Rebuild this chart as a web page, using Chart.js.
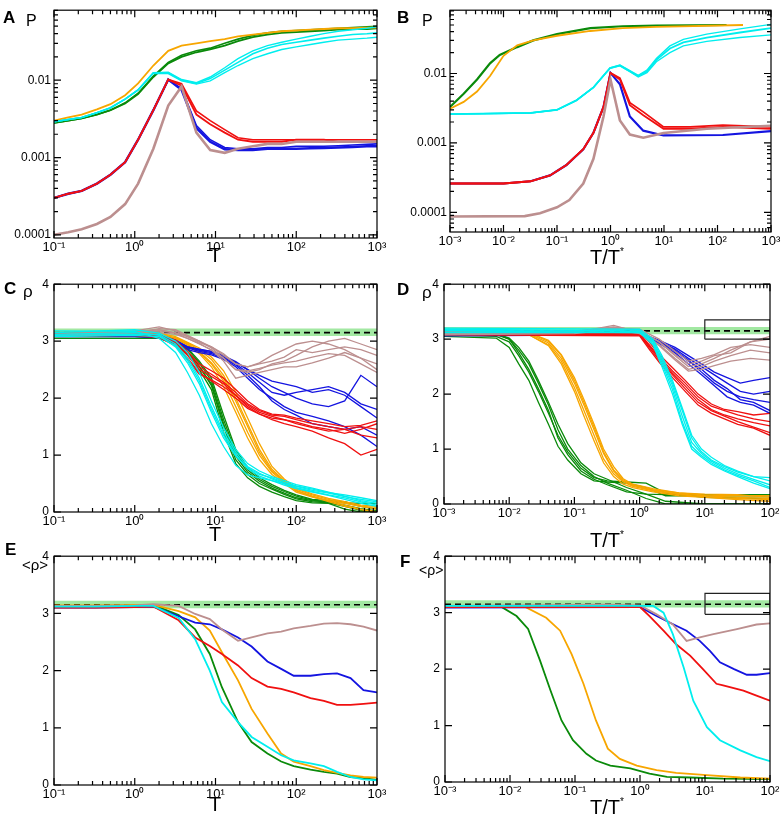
<!DOCTYPE html>
<html>
<head>
<meta charset="utf-8">
<script src="https://cdn.jsdelivr.net/npm/chart.js@4.4.1/dist/chart.umd.min.js"></script>
<style>
  body { margin: 0; background: #fff; }
  #fig { position: relative; width: 783px; height: 823px; overflow: hidden;
         font-family: 'Liberation Sans', Arial, Helvetica, sans-serif; }
  canvas { position: absolute; }
  .t { position: absolute; line-height: 1; white-space: nowrap; color: #000; }
  .let { font-weight: bold; font-size: 17px; }
  .yl { font-size: 16px; }
  .ax { font-size: 20px; width: 100px; text-align: center; }
  .ax sup { font-size: 10px; vertical-align: 9px; }
</style>
</head>
<body>
<div id="fig">
  <canvas id="pA"></canvas>
  <canvas id="pB"></canvas>
  <canvas id="pC"></canvas>
  <canvas id="pD"></canvas>
  <canvas id="pE"></canvas>
  <canvas id="pF"></canvas>

  <div class="t let" style="left:3px;top:9px">A</div>
  <div class="t yl" style="left:26px;top:13px">P</div>
  <div class="t let" style="left:397px;top:9px">B</div>
  <div class="t yl" style="left:422px;top:13px">P</div>
  <div class="t let" style="left:4px;top:280px">C</div>
  <div class="t yl" style="left:23px;top:283px;font-size:17px">ρ</div>
  <div class="t let" style="left:397px;top:281px">D</div>
  <div class="t yl" style="left:422px;top:284px;font-size:17px">ρ</div>
  <div class="t let" style="left:5px;top:541px">E</div>
  <div class="t yl" style="left:22px;top:557px;font-size:15px">&lt;ρ&gt;</div>
  <div class="t let" style="left:400px;top:553px">F</div>
  <div class="t yl" style="left:419px;top:563px;font-size:14px">&lt;ρ&gt;</div>

  <div class="t ax" style="left:165px;top:245px">T</div>
  <div class="t ax" style="left:557px;top:247px">T/T<sup>*</sup></div>
  <div class="t ax" style="left:165px;top:524px">T</div>
  <div class="t ax" style="left:557px;top:530px">T/T<sup>*</sup></div>
  <div class="t ax" style="left:165px;top:794px">T</div>
  <div class="t ax" style="left:557px;top:797px">T/T<sup>*</sup></div>
</div>

<script>
// ---------------------------------- colours ----------------------------------
const GREEN = '#0a8a0a', ORANGE = '#f7a600', CYAN = '#00eeee', RED = '#f01010', BLUE = '#1414e0', BROWN = '#bc8f8f';
const BAND = '#a2e8a2';
const FONT = "'Liberation Sans', Arial, Helvetica, sans-serif";

// ---------------------------------- ticks ------------------------------------
const decT = [0.1, 1, 10, 100, 1000];
const labT = ['10⁻¹', '10⁰', '10¹', '10²', '10³'];
const decTT = [0.001, 0.01, 0.1, 1, 10, 100, 1000];
const labTT = ['10⁻³', '10⁻²', '10⁻¹', '10⁰', '10¹', '10²', '10³'];
const decTT5 = [0.001, 0.01, 0.1, 1, 10, 100];
const labTT5 = ['10⁻³', '10⁻²', '10⁻¹', '10⁰', '10¹', '10²'];
const decP = [0.0001, 0.001, 0.01];
const labP = ['0.0001', '0.001', '0.01'];
const rhoTicks = [0, 1, 2, 3, 4];
const rhoLabels = ['0', '1', '2', '3', '4'];

// reference density, its band, and the boxes of D / F
const rhoRef = 3.15, rhoLo = 3.09, rhoHi = 3.22;
const boxX = [10, 10, 100, 100, 10];
const boxYD = [3.0, 3.35, 3.35, 3.0, 3.0];
const boxYF = [2.97, 3.34, 3.34, 2.97, 2.97];

// ---------------------------------- panel A ----------------------------------
const aT = [0.1,0.15,0.22,0.34,0.5,0.76,1.1,1.7,2.6,3.8,5.8,8.6,13,19,29,44,66,100,150,220,330,500,750,1000];
const aOrange = [0.0030,0.0033,0.0036,0.0042,0.0049,0.0064,0.0091,0.0155,0.024,0.028,0.030,0.032,0.034,0.037,0.039,0.041,0.043,0.044,0.045,0.046,0.047,0.047,0.048,0.048];
const aGreen1 = [0.0028,0.0030,0.0032,0.0036,0.0041,0.0050,0.0066,0.0110,0.0165,0.020,0.023,0.025,0.028,0.032,0.036,0.039,0.041,0.042,0.043,0.044,0.045,0.046,0.046,0.047];
const aGreen2 = [0.0028,0.0030,0.0032,0.0036,0.0041,0.0051,0.0068,0.0113,0.0170,0.021,0.024,0.026,0.030,0.034,0.038,0.041,0.043,0.044,0.045,0.046,0.047,0.048,0.049,0.050];
const aCyan1 = [0.0029,0.0031,0.0033,0.0038,0.0044,0.0057,0.0075,0.0125,0.0125,0.0100,0.0091,0.0105,0.0135,0.017,0.022,0.026,0.029,0.031,0.033,0.035,0.037,0.039,0.040,0.041];
const aCyan2 = [0.0029,0.0031,0.0033,0.0038,0.0044,0.0057,0.0075,0.0125,0.0127,0.0102,0.0093,0.011,0.0145,0.019,0.024,0.028,0.031,0.034,0.037,0.040,0.043,0.045,0.047,0.049];
const aCyan3 = [0.0029,0.0031,0.0033,0.0038,0.0044,0.0057,0.0075,0.0123,0.0122,0.0098,0.0089,0.0098,0.0125,0.0155,0.019,0.022,0.025,0.027,0.029,0.031,0.033,0.034,0.035,0.036];
const aRed1 = [0.00030,0.00034,0.00037,0.00046,0.00060,0.00087,0.0017,0.0041,0.0102,0.0085,0.0036,0.0027,0.0021,0.0017,0.0016,0.0016,0.0016,0.0017,0.0017,0.0017,0.0016,0.0016,0.0016,0.0016];
const aRed2 = [0.00030,0.00034,0.00037,0.00046,0.00060,0.00087,0.0017,0.0041,0.0102,0.0090,0.0040,0.0030,0.0023,0.0018,0.0017,0.0017,0.0017,0.0017,0.0017,0.0017,0.0017,0.0017,0.0017,0.0017];
const aBlue1 = [0.00030,0.00034,0.00037,0.00046,0.00060,0.00087,0.0017,0.0041,0.0102,0.0075,0.0024,0.0016,0.00128,0.00125,0.00125,0.0013,0.0013,0.0013,0.00132,0.00133,0.00135,0.00137,0.0014,0.0014];
const aBlue2 = [0.00030,0.00034,0.00037,0.00046,0.00060,0.00087,0.0017,0.0041,0.0102,0.0078,0.0026,0.0017,0.00135,0.0013,0.0013,0.00135,0.00135,0.0014,0.0014,0.0014,0.00142,0.00145,0.00148,0.0015];
const aBrown = [0.00010,0.000108,0.000118,0.000138,0.00017,0.00025,0.00046,0.0013,0.0047,0.0083,0.0021,0.00125,0.00115,0.0013,0.0014,0.0015,0.0015,0.0016,0.0016,0.0016,0.0016,0.0016,0.0016,0.0016];

// ---------------------------------- panel B ----------------------------------
const bGreenT = [0.001,0.0018,0.0032,0.0056,0.0085,0.018,0.036,0.1,0.42,1.7,7.2,148];
const bGreen = [0.0033,0.0051,0.0082,0.014,0.0185,0.024,0.030,0.037,0.045,0.048,0.049,0.050];
const bOrangeT = [0.001,0.0018,0.0032,0.0056,0.01,0.018,0.036,0.1,0.42,1.7,7.2,300];
const bOrange = [0.0031,0.0039,0.0055,0.0092,0.018,0.0255,0.030,0.035,0.041,0.045,0.047,0.050];
const bCyanT = [0.001,0.032,0.1,0.23,0.48,0.98,1.5,2.3,3.3,4.8,7.2,12.9,23,63,263,1000];
const bCyan1 = [0.0026,0.0027,0.0030,0.0041,0.0063,0.0120,0.0131,0.0108,0.0092,0.0108,0.0157,0.0229,0.028,0.033,0.039,0.045];
const bCyan2 = [0.0026,0.0027,0.0030,0.0041,0.0063,0.0121,0.0133,0.0110,0.0094,0.0112,0.0165,0.025,0.031,0.037,0.044,0.051];
const bCyan3 = [0.0026,0.0027,0.0030,0.0041,0.0063,0.0119,0.0129,0.0106,0.0089,0.0103,0.0148,0.020,0.025,0.029,0.033,0.036];
const bRedT = [0.001,0.01,0.032,0.074,0.15,0.31,0.48,0.74,1,1.5,2.3,4.1,9.8,31,126,1000];
const bRed1 = [0.00026,0.00026,0.00028,0.00034,0.00048,0.00081,0.0014,0.0033,0.0102,0.0082,0.0035,0.0025,0.0016,0.0016,0.0017,0.0016];
const bRed2 = [0.00026,0.00026,0.00028,0.00034,0.00048,0.00081,0.0014,0.0033,0.0102,0.0086,0.0038,0.0028,0.0017,0.0017,0.0018,0.0017];
const bBlueT = [0.001,0.01,0.032,0.074,0.15,0.31,0.48,0.74,1,1.5,2.3,4.1,9.8,126,1000];
const bBlue = [0.00026,0.00026,0.00028,0.00034,0.00048,0.00081,0.0014,0.0033,0.0102,0.0070,0.0024,0.0015,0.00128,0.0013,0.00148];
const bBrownT = [0.001,0.025,0.048,0.1,0.17,0.31,0.48,0.74,1,1.5,2.3,4.1,9.8,63,1000];
const bBrown = [0.000087,0.000088,0.000097,0.000118,0.00015,0.00026,0.00059,0.0024,0.0082,0.0021,0.00132,0.00119,0.00139,0.0016,0.00177];

// ---------------------------------- panel C (single runs) --------------------
const cT = [0.1,1,2,3.2,4.5,6.3,8.9,12.6,17.8,25,35,50,71,100,158,251,398,631,1000];
const cCyan = [
  [3.18,3.17,3.05,2.8,2.45,2.05,1.55,1.15,0.82,0.65,0.6,0.55,0.5,0.45,0.38,0.33,0.27,0.22,0.18],
  [3.12,3.15,3.1,2.9,2.62,2.25,1.75,1.3,0.98,0.78,0.66,0.6,0.52,0.46,0.4,0.34,0.3,0.25,0.2],
  [3.1,3.12,3.12,2.95,2.7,2.35,1.85,1.4,1.05,0.8,0.68,0.58,0.5,0.43,0.36,0.3,0.25,0.18,0.12],
  [3.15,3.2,3.14,3.0,2.8,2.45,1.95,1.48,1.1,0.85,0.72,0.62,0.55,0.48,0.42,0.35,0.28,0.2,0.15],
  [3.08,3.1,3.08,2.92,2.66,2.3,1.8,1.35,1.0,0.76,0.63,0.55,0.47,0.41,0.35,0.29,0.22,0.15,0.1]
];
const cGreen = [
  [3.05,3.05,3.05,2.95,2.78,2.5,2.15,1.4,0.85,0.6,0.45,0.35,0.27,0.2,0.16,0.15,0.05,0.0,0.0],
  [3.1,3.1,3.08,2.98,2.82,2.56,2.22,1.5,0.92,0.66,0.5,0.4,0.31,0.23,0.18,0.16,0.1,0.03,0.0],
  [3.12,3.12,3.1,3.0,2.86,2.62,2.3,1.62,1.05,0.74,0.57,0.45,0.36,0.28,0.21,0.18,0.16,0.15,0.15],
  [3.08,3.08,3.06,2.96,2.8,2.55,2.25,1.55,0.98,0.7,0.54,0.42,0.33,0.25,0.2,0.17,0.12,0.06,0.02],
  [3.14,3.12,3.1,3.02,2.88,2.65,2.35,1.7,1.1,0.78,0.6,0.48,0.38,0.3,0.22,0.2,0.18,0.1,0.05]
];
const cOrange = [
  [3.15,3.15,3.12,3.05,2.95,2.8,2.6,2.3,1.85,1.4,1.0,0.7,0.52,0.38,0.28,0.2,0.12,0.05,0.0],
  [3.13,3.14,3.12,3.06,2.97,2.85,2.68,2.4,2.0,1.55,1.1,0.75,0.55,0.4,0.3,0.22,0.16,0.1,0.05],
  [3.12,3.13,3.1,3.04,2.93,2.78,2.55,2.2,1.75,1.3,0.92,0.66,0.5,0.35,0.26,0.2,0.15,0.1,0.08],
  [3.16,3.16,3.14,3.08,2.98,2.88,2.72,2.48,2.1,1.65,1.2,0.8,0.58,0.42,0.32,0.24,0.18,0.12,0.1],
  [3.14,3.14,3.12,3.05,2.95,2.82,2.62,2.35,1.95,1.5,1.05,0.72,0.54,0.37,0.27,0.18,0.1,0.04,0.0]
];
const cRed = [
  [3.1,3.1,3.08,2.95,2.7,2.45,2.3,2.15,2.0,1.82,1.72,1.65,1.62,1.58,1.5,1.45,1.38,1.45,1.55],
  [3.12,3.12,3.1,2.98,2.78,2.55,2.42,2.28,2.1,1.9,1.78,1.7,1.68,1.62,1.55,1.5,1.45,1.35,1.3],
  [3.08,3.1,3.06,2.92,2.68,2.42,2.32,2.2,2.05,1.85,1.72,1.62,1.55,1.5,1.42,1.3,1.2,1.0,1.1],
  [3.14,3.14,3.12,3.02,2.82,2.6,2.48,2.35,2.15,1.95,1.8,1.72,1.7,1.65,1.6,1.55,1.5,1.52,1.6],
  [3.1,3.12,3.1,2.96,2.75,2.5,2.38,2.25,2.05,1.88,1.75,1.68,1.62,1.55,1.48,1.42,1.45,1.5,1.45]
];
const cBlue = [
  [3.1,3.1,3.08,3.0,2.9,2.85,2.82,2.75,2.62,2.5,2.35,2.2,2.1,2.0,1.9,1.85,1.95,2.4,2.2],
  [3.08,3.08,3.06,2.98,2.85,2.8,2.76,2.68,2.55,2.35,2.15,2.0,1.85,1.75,1.68,1.6,1.5,1.35,1.15],
  [3.12,3.12,3.1,3.02,2.9,2.86,2.82,2.72,2.6,2.45,2.28,2.1,2.05,2.1,2.15,2.2,2.1,1.9,1.8],
  [3.1,3.1,3.08,3.0,2.88,2.82,2.78,2.7,2.58,2.4,2.2,1.95,1.8,1.7,1.55,1.5,1.45,1.5,1.35],
  [3.09,3.1,3.08,3.01,2.9,2.84,2.8,2.74,2.64,2.5,2.4,2.3,2.25,2.2,2.1,2.15,2.05,1.85,1.65]
];
const cBrown = [
  [3.1,3.15,3.22,3.2,3.1,3.0,2.88,2.7,2.5,2.45,2.5,2.6,2.65,2.75,2.9,3.0,3.05,2.95,2.85],
  [3.12,3.18,3.25,3.18,3.08,2.98,2.9,2.75,2.6,2.55,2.62,2.75,2.85,2.95,3.0,2.95,2.85,2.7,2.5],
  [3.08,3.12,3.15,3.12,3.05,2.95,2.85,2.65,2.35,2.4,2.45,2.5,2.55,2.55,2.62,2.7,2.8,2.7,2.6],
  [3.14,3.16,3.2,3.15,3.08,3.0,2.9,2.78,2.6,2.55,2.6,2.65,2.72,2.85,2.8,2.85,2.9,2.85,2.75],
  [3.1,3.14,3.18,3.14,3.05,2.96,2.84,2.7,2.5,2.48,2.52,2.58,2.62,2.65,2.72,2.78,2.75,2.6,2.45]
];

// ---------------------------------- panel D (single runs, T/T*) -------------
const dGreenT = [0.001,0.0063,0.01,0.014,0.02,0.028,0.04,0.056,0.079,0.126,0.2,0.32,0.63,1.26,2.5,10,100];
const dGreen = [
  [3.05,3.02,2.85,2.55,2.25,1.85,1.45,1.05,0.8,0.55,0.42,0.4,0.38,0.3,0.15,0.15,0.15],
  [3.08,3.05,2.95,2.7,2.4,2.05,1.65,1.25,0.95,0.65,0.48,0.42,0.4,0.38,0.2,0.12,0.1],
  [3.1,3.08,3.0,2.8,2.55,2.2,1.8,1.35,1.0,0.7,0.5,0.38,0.25,0.1,0.0,0.0,0.0],
  [3.12,3.1,3.02,2.85,2.6,2.25,1.85,1.45,1.1,0.75,0.55,0.45,0.3,0.18,0.05,0.0,0.0],
  [3.15,3.1,3.0,2.75,2.45,2.1,1.7,1.2,0.9,0.6,0.45,0.35,0.22,0.18,0.17,0.17,0.17]
];
const dOrangeT = [0.001,0.02,0.04,0.063,0.1,0.14,0.2,0.28,0.4,0.56,0.79,1.6,4,10,32,100];
const dOrange = [
  [3.1,3.08,2.88,2.55,2.05,1.6,1.15,0.75,0.5,0.36,0.3,0.22,0.15,0.12,0.08,0.05],
  [3.12,3.1,2.93,2.65,2.2,1.8,1.35,0.92,0.6,0.42,0.34,0.25,0.18,0.15,0.12,0.1],
  [3.15,3.12,2.98,2.72,2.3,1.9,1.45,1.0,0.68,0.46,0.36,0.28,0.2,0.16,0.15,0.15],
  [3.1,3.08,2.9,2.6,2.12,1.7,1.25,0.82,0.55,0.4,0.32,0.24,0.17,0.13,0.1,0.08],
  [3.14,3.12,2.96,2.7,2.25,1.85,1.4,0.95,0.62,0.44,0.35,0.26,0.2,0.18,0.17,0.12]
];
const dCyanT = [0.001,1,1.6,2.2,3.2,4.5,6.3,8.9,12.6,20,32,56,100];
const dCyan = [
  [3.15,3.12,2.9,2.5,2.0,1.45,1.0,0.85,0.72,0.6,0.5,0.38,0.28],
  [3.18,3.15,2.95,2.6,2.15,1.6,1.12,0.92,0.78,0.65,0.55,0.45,0.35],
  [3.2,3.18,3.0,2.7,2.25,1.75,1.25,1.0,0.85,0.7,0.6,0.5,0.42],
  [3.12,3.12,2.92,2.55,2.08,1.5,1.05,0.88,0.75,0.62,0.52,0.42,0.3],
  [3.16,3.14,2.97,2.65,2.2,1.7,1.2,0.95,0.8,0.68,0.58,0.5,0.48]
];
const dRedT = [0.001,1,1.4,2,3.2,5,7.9,12.6,20,32,56,100];
const dRed = [
  [3.1,3.08,2.85,2.62,2.35,2.1,1.85,1.7,1.6,1.5,1.4,1.3],
  [3.12,3.1,2.9,2.68,2.42,2.2,1.95,1.78,1.7,1.62,1.55,1.5],
  [3.08,3.06,2.82,2.58,2.3,2.05,1.8,1.65,1.55,1.45,1.38,1.25],
  [3.14,3.12,2.95,2.72,2.48,2.25,2.0,1.82,1.72,1.68,1.62,1.65],
  [3.1,3.08,2.88,2.65,2.38,2.15,1.9,1.72,1.62,1.55,1.48,1.42]
];
const dBlueT = [0.001,1,2,3.5,5.6,8.9,14,22,35,56,100];
const dBlue = [
  [3.08,3.1,2.95,2.8,2.6,2.45,2.25,2.1,1.9,1.85,1.7],
  [3.1,3.12,2.98,2.85,2.7,2.55,2.4,2.3,2.2,2.25,2.3],
  [3.06,3.08,2.92,2.75,2.55,2.35,2.15,1.95,1.85,1.8,1.65],
  [3.1,3.1,2.96,2.82,2.65,2.5,2.35,2.2,2.05,2.0,2.05],
  [3.08,3.09,2.94,2.78,2.62,2.4,2.2,2.05,1.95,1.9,1.85]
];
const dBrownT = [0.001,0.1,0.4,1,2,3.5,5.6,8.9,14,25,50,100];
const dBrown = [
  [3.12,3.14,3.22,3.15,2.95,2.7,2.5,2.55,2.65,2.8,2.95,3.0],
  [3.1,3.12,3.25,3.12,2.9,2.65,2.45,2.5,2.6,2.7,2.8,2.75],
  [3.14,3.15,3.2,3.18,3.0,2.78,2.6,2.65,2.72,2.85,2.9,2.85],
  [3.08,3.1,3.18,3.1,2.88,2.62,2.42,2.45,2.52,2.6,2.65,2.62],
  [3.12,3.14,3.22,3.16,2.95,2.72,2.55,2.6,2.7,2.75,2.95,3.05]
];

// ---------------------------------- panel E (averages vs T) ------------------
const eT = [0.1,0.32,1,1.7,3.5,5.6,8.5,12,19,28,44,65,93,150,220,320,470,680,1000];
const eBrown = [3.13,3.13,3.14,3.16,3.13,2.99,2.90,2.72,2.52,2.58,2.65,2.68,2.74,2.78,2.82,2.83,2.81,2.77,2.70];
const eBlue = [3.10,3.10,3.11,3.12,2.95,2.84,2.81,2.72,2.58,2.42,2.16,2.03,1.91,1.91,1.94,1.95,1.87,1.66,1.62];
const eRed = [3.10,3.10,3.11,3.12,2.88,2.58,2.43,2.29,2.09,1.87,1.72,1.68,1.62,1.52,1.47,1.40,1.40,1.42,1.44];
const eOrange = [3.14,3.14,3.15,3.15,3.04,2.93,2.70,2.32,1.83,1.33,0.90,0.55,0.41,0.33,0.26,0.21,0.17,0.14,0.13];
const eGreen = [3.12,3.12,3.13,3.15,2.97,2.72,2.29,1.71,1.10,0.75,0.55,0.41,0.33,0.27,0.23,0.20,0.14,0.12,0.09];
const eCyan = [3.12,3.12,3.13,3.13,2.92,2.55,2.0,1.45,1.10,0.84,0.67,0.52,0.43,0.38,0.33,0.23,0.14,0.10,0.08];

// ---------------------------------- panel F (averages vs T/T*) ---------------
const fGreenT = [0.001,0.0074,0.0126,0.019,0.029,0.042,0.062,0.093,0.15,0.21,0.35,0.71,1.4,2.6,5.9,19,100];
const fGreen = [3.1,3.1,2.94,2.71,2.15,1.62,1.09,0.74,0.5,0.38,0.29,0.24,0.15,0.09,0.08,0.06,0.05];
const fOrangeT = [0.001,0.016,0.036,0.059,0.089,0.135,0.21,0.32,0.49,0.89,1.8,3.6,10.7,35,100];
const fOrange = [3.12,3.12,2.91,2.68,2.26,1.74,1.09,0.59,0.41,0.29,0.21,0.16,0.12,0.08,0.06];
const fCyanT = [0.001,1.6,2.3,3.2,4.7,6.6,10.7,17,35,62,100];
const fCyan = [3.12,3.12,3.0,2.62,2.03,1.44,0.97,0.74,0.56,0.44,0.37];
const fRedT = [0.001,1,1.4,2.3,3.6,5.9,9.3,15,19,39,62,100];
const fRed = [3.1,3.1,2.94,2.68,2.44,2.24,2.0,1.74,1.71,1.62,1.53,1.44];
const fBlueT = [0.001,1,1.8,2.9,5.2,8.3,12,17,28,44,62,100];
const fBlue = [3.09,3.1,2.94,2.82,2.68,2.5,2.32,2.12,2.0,1.9,1.9,1.93];
const fBrownT = [0.001,0.3,1,1.8,3.2,5.2,8.3,13.5,31,62,100];
const fBrown = [3.12,3.14,3.13,2.97,2.79,2.5,2.56,2.62,2.71,2.79,2.81];

// ---------------------------------- helpers ----------------------------------
// lower order = drawn on top
const ORD = { box: 0, cyan: 1, brown: 2, red: 3, blue: 4, orange: 5, green: 6, dash: 8, band: 9 };

function line(xs, ys, color, w, order) {
  return {
    data: xs.map((x, i) => ({ x: x, y: ys[i] })),
    borderColor: color, borderWidth: w, pointRadius: 0, fill: false, tension: 0, order: order
  };
}
function runs(xs, set, color, w, order) {
  return set.map(ys => line(xs, ys, color, w, order));
}
function refLines(x0, x1) {
  const band = line([x0, x1], [rhoHi, rhoHi], BAND, 0, ORD.band);
  band.fill = { value: rhoLo };
  band.backgroundColor = BAND;
  const dash = line([x0, x1], [rhoRef, rhoRef], '#000', 1.6, ORD.dash);
  dash.borderDash = [6, 4];
  return [band, dash];
}

// frame with inward ticks on all four sides (xmgrace look)
const frame = {
  id: 'frame',
  afterDatasetsDraw(chart) {
    const { ctx, chartArea: a, scales } = chart;
    const marks = (s) => {
      const out = [];
      if (s.type === 'logarithmic') {
        const e0 = Math.floor(Math.log10(s.min)), e1 = Math.ceil(Math.log10(s.max));
        for (let e = e0; e <= e1; e++) {
          for (let m = 1; m < 10; m++) {
            const v = m * Math.pow(10, e);
            if (v >= s.min * 0.999 && v <= s.max * 1.001) out.push([s.getPixelForValue(v), m === 1 ? 7 : 4]);
          }
        }
      } else {
        for (let v = s.min; v <= s.max; v += 1) out.push([s.getPixelForValue(v), 7]);
      }
      return out;
    };
    ctx.save();
    ctx.strokeStyle = '#000';
    ctx.lineWidth = 1.2;
    ctx.strokeRect(a.left, a.top, a.right - a.left, a.bottom - a.top);
    ctx.beginPath();
    marks(scales.x).forEach(([p, len]) => {
      ctx.moveTo(p, a.bottom); ctx.lineTo(p, a.bottom - len);
      ctx.moveTo(p, a.top); ctx.lineTo(p, a.top + len);
    });
    marks(scales.y).forEach(([p, len]) => {
      ctx.moveTo(a.left, p); ctx.lineTo(a.left + len, p);
      ctx.moveTo(a.right, p); ctx.lineTo(a.right - len, p);
    });
    ctx.stroke();
    ctx.restore();
  }
};

function axis(type, a, pad, size, fit) {
  return {
    type: type, min: a.min, max: a.max,
    grid: { display: false, drawTicks: false },
    border: { display: false },
    afterBuildTicks: s => { s.ticks = a.ticks.map(v => ({ value: v })); },
    afterFit: fit,
    ticks: {
      autoSkip: false, maxRotation: 0, minRotation: 0, padding: pad, color: '#000',
      font: { family: FONT, size: size },
      callback: (v, i) => a.labels[i]
    }
  };
}

function makePanel(id, g, xa, ya, datasets) {
  const cv = document.getElementById(id);
  cv.width = g.cw; cv.height = g.ch;
  cv.style.left = g.cx + 'px'; cv.style.top = g.cy + 'px';
  return new Chart(cv, {
    type: 'line',
    data: { datasets: datasets },
    plugins: [frame],
    options: {
      responsive: false, animation: false, devicePixelRatio: 1, events: [],
      layout: { padding: { left: 0, top: g.T - g.cy, right: g.cx + g.cw - g.R, bottom: 0 } },
      plugins: { legend: { display: false }, tooltip: { enabled: false } },
      scales: {
        x: axis('logarithmic', xa, 2, 13, s => { s.height = g.cy + g.ch - g.B; }),
        y: axis(ya.type, ya, ya.pad, 12, s => { s.width = g.L - g.cx; })
      }
    }
  });
}

// ---------------------------------- axes -------------------------------------
const xT = { min: 0.1, max: 1000, ticks: decT, labels: labT };
const xTT = { min: 0.001, max: 1000, ticks: decTT, labels: labTT };
const xTT5 = { min: 0.001, max: 100, ticks: decTT5, labels: labTT5 };
const yPA = { type: 'logarithmic', min: 9.1e-5, max: 0.0805, ticks: decP, labels: labP, pad: 3 };
const yPB = { type: 'logarithmic', min: 5.2e-5, max: 0.0817, ticks: decP, labels: labP, pad: 3 };
const yRho = { type: 'linear', min: 0, max: 4, ticks: rhoTicks, labels: rhoLabels, pad: 5 };

// ---------------------------------- panels -----------------------------------
makePanel('pA', { cx: 0, cy: 0, cw: 390, ch: 272, L: 54, T: 4, R: 377, B: 238 }, xT, yPA, [
  line(aT, aBrown, BROWN, 2.6, ORD.brown),
  line(aT, aRed1, RED, 1.8, ORD.red), line(aT, aRed2, RED, 1.6, ORD.red),
  line(aT, aBlue1, BLUE, 2.4, ORD.blue), line(aT, aBlue2, BLUE, 1.6, ORD.blue),
  line(aT, aCyan1, CYAN, 1.6, ORD.cyan), line(aT, aCyan2, CYAN, 1.4, ORD.cyan), line(aT, aCyan3, CYAN, 1.4, ORD.cyan),
  line(aT, aOrange, ORANGE, 1.8, ORD.orange),
  line(aT, aGreen1, GREEN, 1.8, ORD.green), line(aT, aGreen2, GREEN, 1.6, ORD.green)
]);

makePanel('pB', { cx: 390, cy: 0, cw: 393, ch: 272, L: 450, T: 4, R: 771, B: 232 }, xTT, yPB, [
  line(bBrownT, bBrown, BROWN, 2.6, ORD.brown),
  line(bRedT, bRed1, RED, 1.8, ORD.red), line(bRedT, bRed2, RED, 1.8, ORD.red),
  line(bBlueT, bBlue, BLUE, 2.2, ORD.blue),
  line(bCyanT, bCyan1, CYAN, 1.8, ORD.cyan), line(bCyanT, bCyan2, CYAN, 1.4, ORD.cyan), line(bCyanT, bCyan3, CYAN, 1.4, ORD.cyan),
  line(bOrangeT, bOrange, ORANGE, 1.8, ORD.orange),
  line(bGreenT, bGreen, GREEN, 2.2, ORD.green)
]);

makePanel('pC', { cx: 0, cy: 272, cw: 390, ch: 272, L: 54, T: 281, R: 377, B: 512 }, xT, yRho, [].concat(
  refLines(0.1, 1000),
  runs(cT, cCyan, CYAN, 1.3, ORD.cyan), runs(cT, cBrown, BROWN, 1.3, ORD.brown),
  runs(cT, cBlue, BLUE, 1.3, ORD.blue), runs(cT, cRed, RED, 1.3, ORD.red),
  runs(cT, cOrange, ORANGE, 1.3, ORD.orange), runs(cT, cGreen, GREEN, 1.3, ORD.green)
));

makePanel('pD', { cx: 390, cy: 272, cw: 393, ch: 272, L: 444, T: 281, R: 770, B: 504 }, xTT5, yRho, [].concat(
  refLines(0.001, 100),
  [line(boxX, boxYD, '#222', 1.2, ORD.box)],
  runs(dCyanT, dCyan, CYAN, 1.3, ORD.cyan), runs(dBrownT, dBrown, BROWN, 1.3, ORD.brown),
  runs(dBlueT, dBlue, BLUE, 1.3, ORD.blue), runs(dRedT, dRed, RED, 1.3, ORD.red),
  runs(dOrangeT, dOrange, ORANGE, 1.3, ORD.orange), runs(dGreenT, dGreen, GREEN, 1.3, ORD.green)
));

makePanel('pE', { cx: 0, cy: 544, cw: 390, ch: 279, L: 54, T: 555, R: 377, B: 785 }, xT, yRho, [].concat(
  refLines(0.1, 1000),
  [line(eT, eCyan, CYAN, 1.8, ORD.cyan), line(eT, eBrown, BROWN, 1.8, ORD.brown),
   line(eT, eBlue, BLUE, 1.8, ORD.blue), line(eT, eRed, RED, 1.8, ORD.red),
   line(eT, eOrange, ORANGE, 1.8, ORD.orange), line(eT, eGreen, GREEN, 1.8, ORD.green)]
));

makePanel('pF', { cx: 390, cy: 544, cw: 393, ch: 279, L: 445, T: 555, R: 770, B: 782 }, xTT5, yRho, [].concat(
  refLines(0.001, 100),
  [line(boxX, boxYF, '#222', 1.2, ORD.box),
   line(fCyanT, fCyan, CYAN, 1.8, ORD.cyan), line(fBrownT, fBrown, BROWN, 1.8, ORD.brown),
   line(fBlueT, fBlue, BLUE, 1.8, ORD.blue), line(fRedT, fRed, RED, 1.8, ORD.red),
   line(fOrangeT, fOrange, ORANGE, 1.8, ORD.orange), line(fGreenT, fGreen, GREEN, 1.8, ORD.green)]
));
</script>
</body>
</html>
